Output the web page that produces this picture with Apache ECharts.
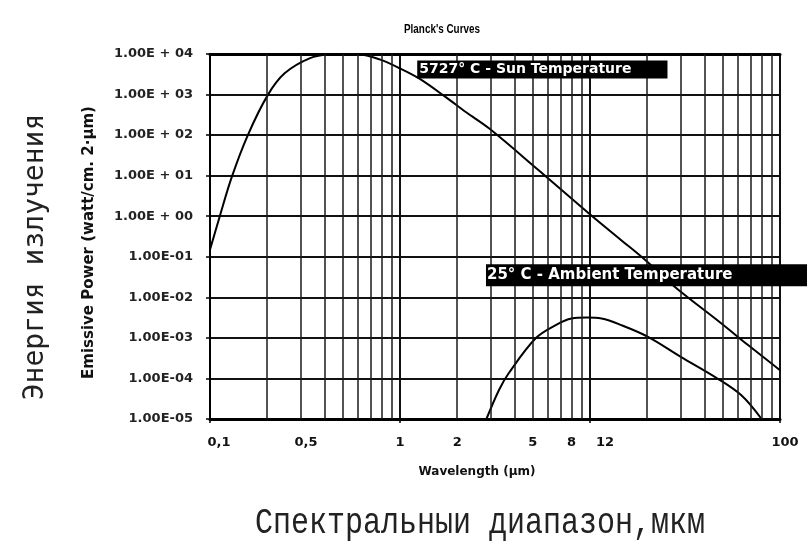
<!DOCTYPE html>
<html>
<head>
<meta charset="utf-8">
<script src="https://cdn.jsdelivr.net/npm/echarts@6/dist/echarts.min.js"></script>
<style>
  html, body { margin: 0; padding: 0; background: #fff; }
  #chart { width: 807px; height: 544px; }
</style>
</head>
<body>
<div id="chart"></div>
<script>
// Planck's curves: spectral emissive power of a black body (log-log)

// Sun, 5727 °C
const sunWavelength = [0.1, 0.113, 0.130, 0.158, 0.201, 0.247, 0.334, 0.43, 0.51, 0.61, 0.78, 1.0, 1.26, 1.75, 2.23, 2.94, 5.37, 9.84, 14.6, 19.6, 28.1, 49, 67.9, 100];
const sunPower      = [0.15, 1.06, 9.1, 99, 955, 3330, 7800, 9800, 10000, 9800, 7360, 4420, 2500, 850, 365, 147, 13.6, 1.19, 0.257, 0.082, 0.0178, 0.0023, 6.65e-4, 1.6e-4];

// Ambient, 25 °C
const ambientWavelength = [2.85, 3.32, 3.74, 5.19, 6.6, 8.0, 9.6, 11.5, 14.6, 20.3, 30.2, 45.6, 62.4, 80];
const ambientPower      = [1e-5, 5.2e-5, 1.36e-4, 9.9e-4, 2.07e-3, 2.99e-3, 3.16e-3, 2.99e-3, 2.07e-3, 1.05e-3, 3.37e-4, 1.08e-4, 3.9e-5, 1e-5];

// Wavelength tick labels (value where the text sits, and its text)
const xTickValues = [0.1, 0.32, 1, 2, 5, 8, 12, 100];
const xTickLabels = ['0,1', '0,5', '1', '2', '5', '8', '12', '100'];

// Power tick labels, from 1e-5 up to 1e4
const yTickLabels = ['1.00E-05', '1.00E-04', '1.00E-03', '1.00E-02', '1.00E-01',
                     '1.00E + 00', '1.00E + 01', '1.00E + 02', '1.00E + 03', '1.00E + 04'];

// Intermediate wavelength grid lines inside each decade
const minorGridX = [0.2, 0.3, 0.4, 0.5, 0.6, 0.7, 0.8, 0.9,
                    2, 3, 4, 5, 6, 7, 8, 9,
                    20, 30, 40, 50, 60, 70, 80, 90];

const sunLabel = '5727° C - Sun Temperature';
const ambientLabel = '25° C - Ambient Temperature';

const FONT = '"DejaVu Sans", "Liberation Sans", sans-serif';

const chart = echarts.init(document.getElementById('chart'));

const option = {
  backgroundColor: '#fff',
  animation: false,
  grid: { left: 210, right: 27, top: 54, bottom: 125, containLabel: false },
  xAxis: [
    {
      type: 'log', logBase: 10, min: 0.1, max: 100, splitNumber: 3,
      name: 'Wavelength (µm)', nameLocation: 'middle', nameGap: 47,
      nameTextStyle: { fontSize: 12, fontWeight: 'bold', color: '#111', fontFamily: FONT, padding: [0, 36, 0, 0] },
      axisLine: { show: true, lineStyle: { color: '#000', width: 3 } },
      axisTick: { show: true, length: 4, lineStyle: { color: '#000', width: 1.5 } },
      axisLabel: { show: false },
      splitLine: { show: true, lineStyle: { color: '#111', width: 2 } }
    },
    {
      type: 'log', logBase: 10, min: 0.1, max: 100, position: 'top',
      axisLine: { show: true, lineStyle: { color: '#000', width: 3 } },
      axisTick: { show: false }, axisLabel: { show: false }, splitLine: { show: false }
    }
  ],
  yAxis: {
    type: 'log', logBase: 10, min: 1e-5, max: 1e4, splitNumber: 9,
    name: 'Emissive Power (watt/cm. 2·µm)', nameLocation: 'middle', nameGap: 113, nameRotate: 90,
    nameTextStyle: { fontSize: 15, fontWeight: 'bold', color: '#111', fontFamily: FONT, padding: [0, 12, 0, 0] },
    axisLine: { show: true, lineStyle: { color: '#000', width: 2 } },
    axisTick: { show: true, length: 4, lineStyle: { color: '#000', width: 1.5 } },
    axisLabel: {
      margin: 17, fontSize: 13, fontWeight: 'bold', color: '#222', fontFamily: FONT,
      formatter: function (v) {
        const e = Math.round(Math.log10(v));
        return yTickLabels[e + 5] || '';
      }
    },
    splitLine: { show: true, lineStyle: { color: '#111', width: 2 } }
  },
  series: [
    {
      name: 'minor grid', type: 'line', data: [], clip: false, silent: true,
      markLine: {
        silent: true, symbol: ['none', 'none'], label: { show: false },
        emphasis: { disabled: true },
        lineStyle: { color: '#1a1a1a', width: 1.5, type: 'solid' },
        data: minorGridX.map(v => ({ xAxis: v }))
      }
    },
    {
      name: 'Sun', type: 'line', smooth: 0.35, symbol: 'none', clip: false,
      data: sunWavelength.map((w, i) => [w, sunPower[i]]),
      lineStyle: { color: '#000', width: 2 },
      markPoint: {
        symbol: 'circle', symbolSize: 0, silent: true,
        data: [{
          name: sunLabel, coord: [1.232, 4170],
          label: {
            show: true, position: 'right', distance: 0,
            formatter: '{b}', color: '#fff', backgroundColor: '#000',
            fontSize: 14, fontWeight: 'bold', fontFamily: FONT,
            lineHeight: 14, padding: [2, 36, 2, 2]
          }
        }]
      }
    },
    {
      name: 'Ambient', type: 'line', smooth: 0.35, symbol: 'none', clip: false,
      data: ambientWavelength.map((w, i) => [w, ambientPower[i]]),
      lineStyle: { color: '#000', width: 2 },
      markPoint: {
        symbol: 'circle', symbolSize: 0, silent: true,
        data: [{
          name: ambientLabel, coord: [2.835, 0.0352],
          label: {
            show: true, position: 'right', distance: 0,
            formatter: '{b}', color: '#fff', backgroundColor: '#000',
            fontSize: 15, fontWeight: 'bold', fontFamily: FONT,
            lineHeight: 16, padding: [3, 80, 3, 1]
          }
        }]
      }
    },
    {
      name: 'wavelength labels', type: 'line', data: [], clip: false, silent: true,
      markPoint: {
        symbol: 'circle', symbolSize: 0, silent: true,
        label: {
          show: true, position: 'inside', formatter: '{b}', color: '#111',
          fontSize: 13, fontWeight: 'bold', fontFamily: FONT
        },
        data: xTickValues.map((v, i) => ({
          name: xTickLabels[i], coord: [v, 1e-5],
          label: { offset: [i === 0 ? 9 : (i === xTickValues.length - 1 ? 5 : 0), 24] }
        }))
      }
    }
  ],
  graphic: [
    {
      // chart title, drawn condensed
      type: 'text', x: 442, y: 29, scaleX: 0.76, silent: true,
      style: { text: "Planck's Curves", font: 'bold 13px "Liberation Sans", sans-serif',
               fill: '#000', align: 'center', verticalAlign: 'middle' }
    },
    {
      type: 'text', x: 36, y: 257, rotation: Math.PI / 2, silent: true,
      style: { text: 'Энергия излучения', font: '28px "DejaVu Sans Mono", monospace',
               fill: '#222', align: 'center', verticalAlign: 'middle' }
    },
    {
      type: 'text', x: 480, y: 523, scaleY: 1.2, silent: true,
      style: { text: 'Спектральныи диапазон,мкм', font: '30px "Liberation Mono", monospace',
               fill: '#222', align: 'center', verticalAlign: 'middle' }
    }
  ]
};

chart.setOption(option);
</script>
</body>
</html>
